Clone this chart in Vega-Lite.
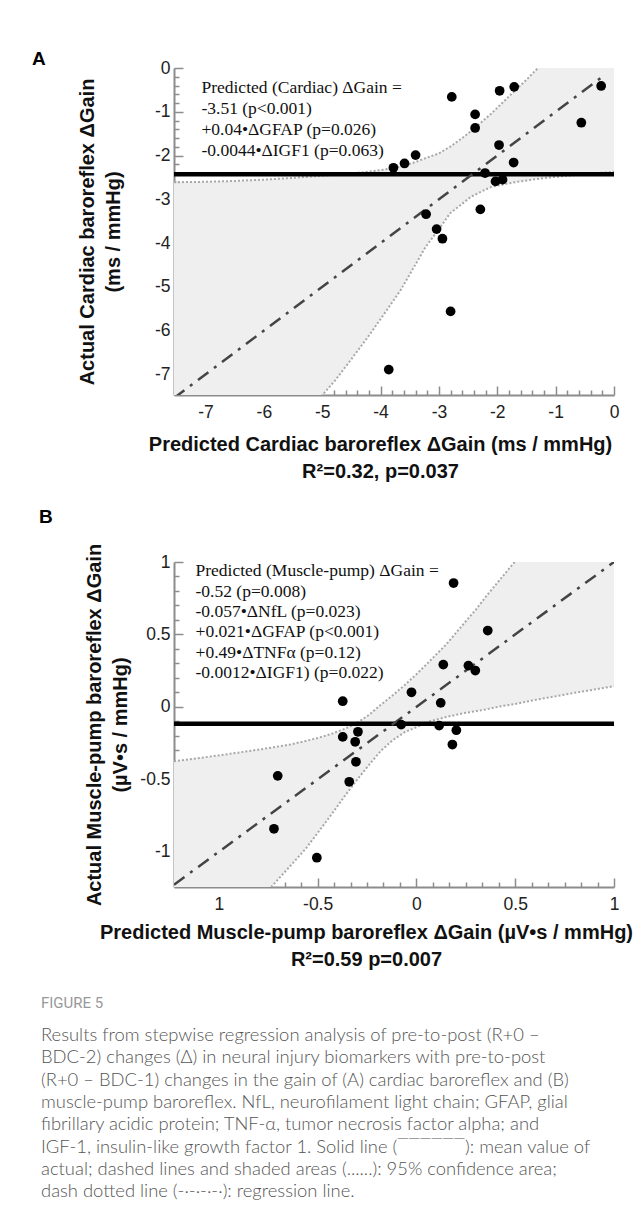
{
  "$schema": "https://vega.github.io/schema/vega-lite/v6.json",
  "background": "white",
  "padding": {"left": 32, "top": 50, "right": 5, "bottom": 5},
  "spacing": 27,
  "config": {
    "view": {"stroke": null},
    "font": "Liberation Sans",
    "axis": {
      "domainColor": "#8c8c8c", "domainWidth": 2,
      "tickColor": "#8c8c8c", "tickWidth": 1.5,
      "labelFont": "Liberation Sans", "labelFontSize": 17.5, "labelColor": "#222",
      "titleFont": "Liberation Sans", "titleFontSize": 20, "titleFontWeight": "bold", "titleColor": "#111",
      "titleLineHeight": 26.5,
      "grid": false, "labelOverlap": false, "labelFlush": false
    }
  },
  "datasets": {
    "ptsA": [
      {"x": -2.78, "y": -0.66}, {"x": -2.38, "y": -1.06}, {"x": -2.38, "y": -1.37},
      {"x": -1.96, "y": -0.52}, {"x": -1.71, "y": -0.43}, {"x": -0.22, "y": -0.41},
      {"x": -0.56, "y": -1.25}, {"x": -1.97, "y": -1.76}, {"x": -1.72, "y": -2.16},
      {"x": -3.40, "y": -1.99}, {"x": -3.59, "y": -2.18}, {"x": -3.78, "y": -2.28},
      {"x": -2.21, "y": -2.40}, {"x": -2.03, "y": -2.59}, {"x": -1.91, "y": -2.55},
      {"x": -3.22, "y": -3.34}, {"x": -2.29, "y": -3.23}, {"x": -3.04, "y": -3.68},
      {"x": -2.94, "y": -3.90}, {"x": -2.80, "y": -5.56}, {"x": -3.86, "y": -6.89}
    ],
    "bandA": [
      {"x": -7.54, "upper": -2.61, "lower": -11.6},
      {"x": -7.0, "upper": -2.60, "lower": -10.7},
      {"x": -6.5, "upper": -2.58, "lower": -9.9},
      {"x": -6.0, "upper": -2.55, "lower": -9.1},
      {"x": -5.5, "upper": -2.51, "lower": -8.3},
      {"x": -5.2, "upper": -2.48, "lower": -7.8},
      {"x": -4.99, "upper": -2.46, "lower": -7.46},
      {"x": -4.78, "upper": -2.44, "lower": -7.14},
      {"x": -4.5, "upper": -2.41, "lower": -6.65},
      {"x": -4.22, "upper": -2.37, "lower": -6.15},
      {"x": -3.94, "upper": -2.32, "lower": -5.62},
      {"x": -3.66, "upper": -2.25, "lower": -5.08},
      {"x": -3.45, "upper": -2.17, "lower": -4.6},
      {"x": -3.23, "upper": -2.06, "lower": -4.09},
      {"x": -3.0, "upper": -1.95, "lower": -3.68},
      {"x": -2.81, "upper": -1.80, "lower": -3.32},
      {"x": -2.6, "upper": -1.60, "lower": -3.10},
      {"x": -2.46, "upper": -1.45, "lower": -2.95},
      {"x": -2.3, "upper": -1.27, "lower": -2.84},
      {"x": -2.11, "upper": -1.05, "lower": -2.72},
      {"x": -1.9, "upper": -0.78, "lower": -2.66},
      {"x": -1.7, "upper": -0.52, "lower": -2.61},
      {"x": -1.5, "upper": -0.27, "lower": -2.57},
      {"x": -1.34, "upper": -0.05, "lower": -2.54},
      {"x": -1.1, "upper": 0.25, "lower": -2.50},
      {"x": -0.8, "upper": 0.65, "lower": -2.46},
      {"x": -0.5, "upper": 1.05, "lower": -2.43},
      {"x": -0.2, "upper": 1.45, "lower": -2.39},
      {"x": 0.0, "upper": 1.7, "lower": -2.37}
    ],
    "regA": [{"x": -7.54, "y": -7.54}, {"x": -0.18, "y": -0.18}],
    "meanA": [{"mean": -2.43}],
    "eqA": [{"x": -7.07, "y": -0.56, "label": "Predicted (Cardiac) ΔGain =\n-3.51 (p<0.001)\n+0.04•ΔGFAP (p=0.026)\n-0.0044•ΔIGF1 (p=0.063)"}],
    "ptsB": [
      {"x": 0.188, "y": 0.855}, {"x": 0.361, "y": 0.527}, {"x": 0.136, "y": 0.292},
      {"x": 0.263, "y": 0.285}, {"x": 0.298, "y": 0.251}, {"x": -0.025, "y": 0.101},
      {"x": -0.373, "y": 0.039}, {"x": 0.123, "y": 0.028}, {"x": -0.077, "y": -0.122},
      {"x": 0.115, "y": -0.129}, {"x": 0.202, "y": -0.161}, {"x": -0.373, "y": -0.207},
      {"x": -0.296, "y": -0.172}, {"x": -0.310, "y": -0.241}, {"x": 0.182, "y": -0.260},
      {"x": -0.306, "y": -0.379}, {"x": -0.340, "y": -0.517}, {"x": -0.702, "y": -0.476},
      {"x": -0.721, "y": -0.841}, {"x": -0.504, "y": -1.041}
    ],
    "bandB": [
      {"x": -1.227, "upper": -0.375, "lower": -2.05},
      {"x": -1.0, "upper": -0.335, "lower": -1.67},
      {"x": -0.8, "upper": -0.295, "lower": -1.34},
      {"x": -0.72, "upper": -0.278, "lower": -1.22},
      {"x": -0.64, "upper": -0.26, "lower": -1.10},
      {"x": -0.56, "upper": -0.235, "lower": -0.978},
      {"x": -0.5, "upper": -0.215, "lower": -0.87},
      {"x": -0.43, "upper": -0.186, "lower": -0.742},
      {"x": -0.36, "upper": -0.15, "lower": -0.61},
      {"x": -0.3, "upper": -0.11, "lower": -0.502},
      {"x": -0.24, "upper": -0.055, "lower": -0.40},
      {"x": -0.18, "upper": 0.015, "lower": -0.303},
      {"x": -0.12, "upper": 0.08, "lower": -0.23},
      {"x": -0.06, "upper": 0.15, "lower": -0.175},
      {"x": 0.0, "upper": 0.225, "lower": -0.14},
      {"x": 0.07, "upper": 0.32, "lower": -0.099},
      {"x": 0.15, "upper": 0.43, "lower": -0.07},
      {"x": 0.24, "upper": 0.575, "lower": -0.043},
      {"x": 0.3, "upper": 0.67, "lower": -0.03},
      {"x": 0.36, "upper": 0.775, "lower": -0.015},
      {"x": 0.43, "upper": 0.89, "lower": 0.005},
      {"x": 0.5, "upper": 1.005, "lower": 0.02},
      {"x": 0.6, "upper": 1.17, "lower": 0.048},
      {"x": 0.7, "upper": 1.33, "lower": 0.072},
      {"x": 0.8, "upper": 1.5, "lower": 0.097},
      {"x": 0.9, "upper": 1.66, "lower": 0.12},
      {"x": 1.0, "upper": 1.82, "lower": 0.143}
    ],
    "regB": [{"x": -1.227, "y": -1.227}, {"x": 1.0, "y": 1.0}],
    "meanB": [{"mean": -0.117}],
    "eqB": [{"x": -1.118, "y": 0.90, "label": "Predicted (Muscle-pump) ΔGain =\n-0.52 (p=0.008)\n-0.057•ΔNfL (p=0.023)\n+0.021•ΔGFAP (p<0.001)\n+0.49•ΔTNFα (p=0.12)\n-0.0012•ΔIGF1) (p=0.022)"}]
  },
  "title": {
    "text": "FIGURE 5",
    "subtitle": [
      "Results from stepwise regression analysis of pre-to-post (R+0 –",
      "BDC-2) changes (Δ) in neural injury biomarkers with pre-to-post",
      "(R+0 – BDC-1) changes in the gain of (A) cardiac baroreflex and (B)",
      "muscle-pump baroreflex. NfL, neurofilament light chain; GFAP, glial",
      "fibrillary acidic protein; TNF-α, tumor necrosis factor alpha; and",
      "IGF-1, insulin-like growth factor 1. Solid line (‾‾‾‾‾‾): mean value of",
      "actual; dashed lines and shaded areas (......): 95% confidence area;",
      "dash dotted line (-·-·-·-·): regression line."
    ],
    "orient": "bottom", "anchor": "start", "frame": "bounds",
    "dx": 9, "offset": 27,
    "font": "Roboto", "fontSize": 15, "fontWeight": "normal", "color": "#999",
    "subtitleFont": "Lato", "subtitleFontSize": 18.4, "subtitleFontWeight": 300, "subtitleColor": "#555",
    "subtitleLineHeight": 22.3, "subtitlePadding": 15
  },
  "vconcat": [
    {
      "width": 440, "height": 327,
      "title": {"text": "A", "anchor": "start", "frame": "bounds", "fontSize": 19, "fontWeight": "bold", "font": "Liberation Sans", "color": "#000", "dx": -45, "offset": -10},
      "resolve": {"axis": {"x": "independent", "y": "independent"}},
      "layer": [
        {
          "data": {"name": "bandA"},
          "mark": {"type": "area", "color": "#efefef", "clip": true},
          "encoding": {
            "x": {"field": "x", "type": "quantitative", "scale": {"domain": [-7.54, 0], "nice": false, "zero": false},
              "axis": {
                "orient": "bottom",
                "values": [-7, -6, -5, -4, -3, -2, -1, 0],
                "labelExpr": "'' + datum.value",
                "tickSize": -9, "labelPadding": 17, "labelOverlap": false,
                "title": ["Predicted Cardiac baroreflex ΔGain (ms / mmHg)", "R²=0.32, p=0.037"],
                "titleX": 206, "titlePadding": 14
              }},
            "y": {"field": "upper", "type": "quantitative", "scale": {"domain": [-7.47, 0], "nice": false, "zero": false},
              "axis": {
                "orient": "left",
                "values": [-7, -6, -5, -4, -3, -2, -1, 0],
                "labelExpr": "'' + datum.value",
                "tickSize": -9, "labelPadding": 13, "labelOverlap": false,
                "title": ["Actual Cardiac baroreflex ΔGain", "(ms / mmHg)"],
                "titleX": -77
              }},
            "y2": {"field": "lower"}
          }
        },
        {
          "data": {"name": "bandA"},
          "mark": {"type": "line", "color": "#a8a8a8", "strokeWidth": 2, "strokeDash": [2, 2], "clip": true},
          "encoding": {
            "x": {"field": "x", "type": "quantitative",
              "axis": {"orient": "bottom", "values": [-7.4,-7.2,-6.8,-6.6,-6.4,-6.2,-5.8,-5.6,-5.4,-5.2,-4.8,-4.6,-4.4,-4.2,-3.8,-3.6,-3.4,-3.2,-2.8,-2.6,-2.4,-2.2,-1.8,-1.6,-1.4,-1.2,-0.8,-0.6,-0.4,-0.2],
                "labels": false, "domain": false, "tickSize": -5, "title": null}},
            "y": {"field": "upper", "type": "quantitative",
              "axis": {"orient": "left", "values": [-7.4,-7.2,-6.8,-6.6,-6.4,-6.2,-5.8,-5.6,-5.4,-5.2,-4.8,-4.6,-4.4,-4.2,-3.8,-3.6,-3.4,-3.2,-2.8,-2.6,-2.4,-2.2,-1.8,-1.6,-1.4,-1.2,-0.8,-0.6,-0.4,-0.2],
                "labels": false, "domain": false, "tickSize": -5, "title": null}}
          }
        },
        {
          "data": {"name": "bandA"},
          "mark": {"type": "line", "color": "#a8a8a8", "strokeWidth": 2, "strokeDash": [2, 2], "clip": true},
          "encoding": {"x": {"field": "x", "type": "quantitative", "axis": null}, "y": {"field": "lower", "type": "quantitative", "axis": null}}
        },
        {
          "data": {"name": "meanA"},
          "mark": {"type": "rule", "color": "#000", "strokeWidth": 4.5},
          "encoding": {"y": {"field": "mean", "type": "quantitative", "axis": null}}
        },
        {
          "data": {"name": "regA"},
          "mark": {"type": "line", "color": "#444", "strokeWidth": 2.5, "strokeDash": [13, 7, 3, 7], "clip": true},
          "encoding": {"x": {"field": "x", "type": "quantitative", "axis": null}, "y": {"field": "y", "type": "quantitative", "axis": null}}
        },
        {
          "data": {"name": "ptsA"},
          "mark": {"type": "circle", "color": "#000", "opacity": 1, "size": 95},
          "encoding": {"x": {"field": "x", "type": "quantitative", "axis": null}, "y": {"field": "y", "type": "quantitative", "axis": null}}
        },
        {
          "data": {"name": "eqA"},
          "mark": {"type": "text", "font": "Liberation Serif", "fontSize": 17.5, "align": "left", "baseline": "alphabetic", "lineBreak": "\n", "lineHeight": 21, "color": "#111"},
          "encoding": {"x": {"field": "x", "type": "quantitative", "axis": null}, "y": {"field": "y", "type": "quantitative", "axis": null}, "text": {"field": "label", "type": "nominal"}}
        }
      ]
    },
    {
      "width": 440, "height": 325,
      "title": {"text": "B", "anchor": "start", "frame": "bounds", "fontSize": 19, "fontWeight": "bold", "font": "Liberation Sans", "color": "#000", "dx": -45, "offset": 16},
      "resolve": {"axis": {"x": "independent", "y": "independent"}},
      "layer": [
        {
          "data": {"name": "bandB"},
          "mark": {"type": "area", "color": "#efefef", "clip": true},
          "encoding": {
            "x": {"field": "x", "type": "quantitative", "scale": {"domain": [-1.227, 1.0], "nice": false, "zero": false},
              "axis": {
                "orient": "bottom",
                "values": [-1, -0.5, 0, 0.5, 1],
                "labelExpr": "datum.value == -1 ? '1' : '' + datum.value",
                "tickSize": -9, "labelPadding": 17, "labelOverlap": false,
                "title": ["Predicted Muscle-pump baroreflex ΔGain (µV•s / mmHg)", "R²=0.59 p=0.007"],
                "titleX": 192, "titlePadding": 10
              }},
            "y": {"field": "upper", "type": "quantitative", "scale": {"domain": [-1.243, 1.0], "nice": false, "zero": false},
              "axis": {
                "orient": "left",
                "values": [-1, -0.5, 0, 0.5, 1],
                "labelExpr": "'' + datum.value",
                "tickSize": -9, "labelPadding": 13, "labelOverlap": false,
                "title": ["Actual Muscle-pump baroreflex ΔGain", "(µV•s / mmHg)"],
                "titleX": -70
              }},
            "y2": {"field": "lower"}
          }
        },
        {
          "data": {"name": "bandB"},
          "mark": {"type": "line", "color": "#a8a8a8", "strokeWidth": 2, "strokeDash": [2, 2], "clip": true},
          "encoding": {
            "x": {"field": "x", "type": "quantitative",
              "axis": {"orient": "bottom", "values": [-1.1667,-1.0833,-0.9167,-0.8333,-0.75,-0.6667,-0.5833,-0.4167,-0.3333,-0.25,-0.1667,-0.0833,0.0833,0.1667,0.25,0.3333,0.4167,0.5833,0.6667,0.75,0.8333,0.9167],
                "labels": false, "domain": false, "tickSize": -5, "title": null}},
            "y": {"field": "upper", "type": "quantitative",
              "axis": {"orient": "left", "values": [-1.2,-1.1,-0.9,-0.8,-0.7,-0.6,-0.4,-0.3,-0.2,-0.1,0.1,0.2,0.3,0.4,0.6,0.7,0.8,0.9],
                "labels": false, "domain": false, "tickSize": -5, "title": null}}
          }
        },
        {
          "data": {"name": "bandB"},
          "mark": {"type": "line", "color": "#a8a8a8", "strokeWidth": 2, "strokeDash": [2, 2], "clip": true},
          "encoding": {"x": {"field": "x", "type": "quantitative", "axis": null}, "y": {"field": "lower", "type": "quantitative", "axis": null}}
        },
        {
          "data": {"name": "meanB"},
          "mark": {"type": "rule", "color": "#000", "strokeWidth": 4.5},
          "encoding": {"y": {"field": "mean", "type": "quantitative", "axis": null}}
        },
        {
          "data": {"name": "regB"},
          "mark": {"type": "line", "color": "#444", "strokeWidth": 2.5, "strokeDash": [13, 7, 3, 7], "clip": true},
          "encoding": {"x": {"field": "x", "type": "quantitative", "axis": null}, "y": {"field": "y", "type": "quantitative", "axis": null}}
        },
        {
          "data": {"name": "ptsB"},
          "mark": {"type": "circle", "color": "#000", "opacity": 1, "size": 95},
          "encoding": {"x": {"field": "x", "type": "quantitative", "axis": null}, "y": {"field": "y", "type": "quantitative", "axis": null}}
        },
        {
          "data": {"name": "eqB"},
          "mark": {"type": "text", "font": "Liberation Serif", "fontSize": 17.5, "align": "left", "baseline": "alphabetic", "lineBreak": "\n", "lineHeight": 20.3, "color": "#111"},
          "encoding": {"x": {"field": "x", "type": "quantitative", "axis": null}, "y": {"field": "y", "type": "quantitative", "axis": null}, "text": {"field": "label", "type": "nominal"}}
        }
      ]
    }
  ]
}
